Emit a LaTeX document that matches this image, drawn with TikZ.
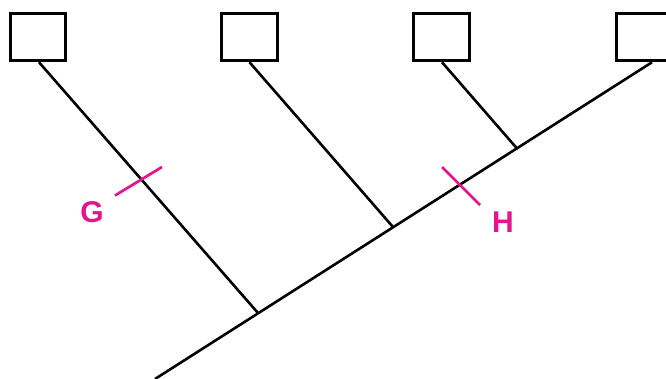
\documentclass[tikz,border=0pt]{standalone}
\usepackage{fontspec}
\setmainfont{Liberation Sans}
\usetikzlibrary{calc}
\definecolor{mag}{RGB}{230,20,140}
\begin{document}
\begin{tikzpicture}[x=1pt,y=-1pt,
  leaf/.style={draw=black,line width=3pt,minimum width=55.5pt,minimum height=47.5pt,inner sep=0pt,fill=white},
  branch/.style={line width=2.6pt,black},
  tick/.style={line width=2.7pt,mag},
  lbl/.style={text=mag,font=\fontsize{30}{30}\selectfont\bfseries,inner sep=0pt}]
\useasboundingbox (0,0) rectangle (666,379);
\node[leaf] (b1) at (38,37) {};
\node[leaf] (b2) at (249.5,37) {};
\node[leaf] (b3) at (441.5,37) {};
\node[leaf] (b4) at (644,37) {};
\coordinate (root) at (155,379);
\coordinate (j1) at (258,313);
\coordinate (j2) at (393,227);
\coordinate (j3) at (517,148.5);
\coordinate (t4) at ($(b4.south)+(8,0)$);
\draw[branch] (root) -- (t4);
\draw[branch] ($(b1.south)+(1,0)$) -- (j1);
\draw[branch] (b2.south) -- (j2);
\draw[branch] ($(b3.south)+(0.5,0)$) -- (j3);
\coordinate (g1) at (115,195.5);
\coordinate (g2) at (162,167);
\coordinate (h1) at (442,167);
\coordinate (h2) at (480,205);
\draw[tick] (g1) -- (g2);
\draw[tick] (h1) -- (h2);
\node[lbl] (G) at (92,212) {G};
\node[lbl] (H) at (503,222) {H};
\end{tikzpicture}
\end{document}
